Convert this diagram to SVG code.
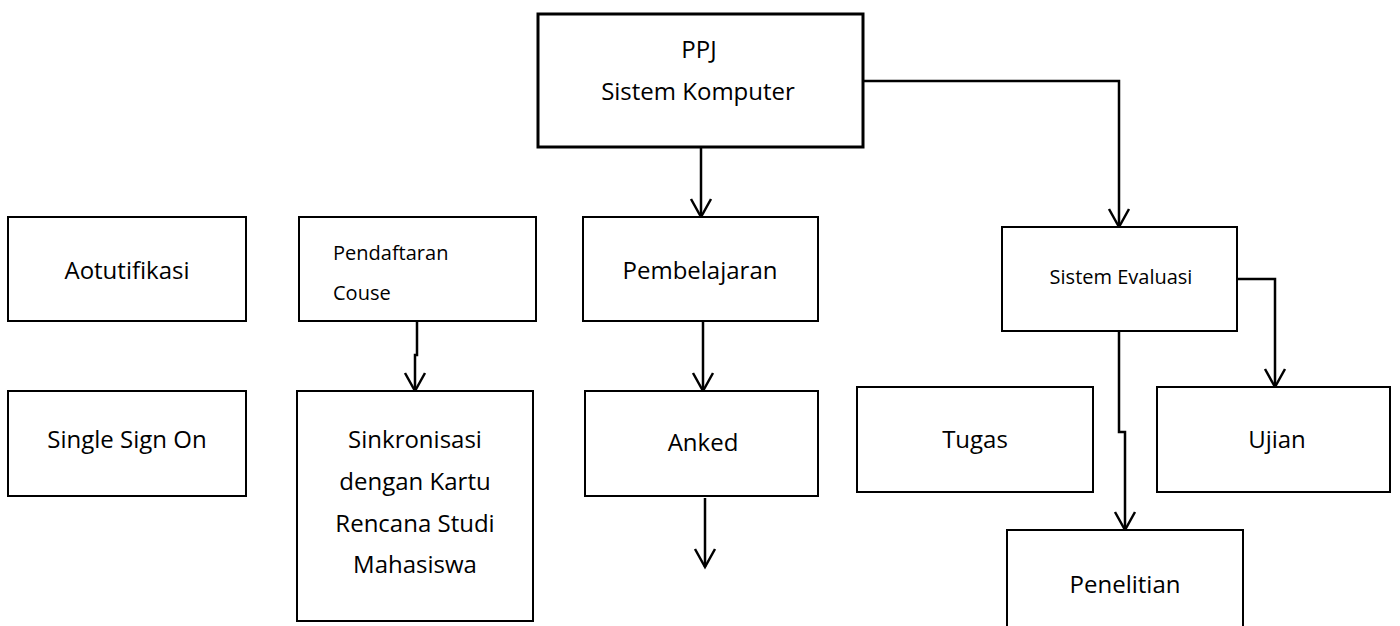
<svg xmlns="http://www.w3.org/2000/svg" width="1400" height="626" viewBox="0 0 1400 626">
<style>
.box{fill:#fff;stroke:#000;stroke-width:2}
.main{fill:#fff;stroke:#000;stroke-width:3}
.t{font-family:"Open Sans","Noto Sans",sans-serif;font-size:24px;fill:#000;text-anchor:middle}
.s{font-family:"Open Sans","Noto Sans",sans-serif;font-size:20px;fill:#000}
.c{fill:none;stroke:#000;stroke-width:2.5;marker-end:url(#v)}
</style>
<defs>
<marker id="v" markerUnits="userSpaceOnUse" viewBox="-20 -12 22 24" refX="0" refY="0" markerWidth="22" markerHeight="24" orient="auto" overflow="visible">
<path d="M-18,-10 L0,0 L-18,10" fill="none" stroke="#000" stroke-width="2.5"/>
</marker>
</defs>
<rect width="1400" height="626" fill="#fff"/>
<g id="connectors">
<path class="c" d="M701,147 V217"/>
<path class="c" d="M863,81 H1119 V227"/>
<path class="c" d="M703,321 V391"/>
<path class="c" d="M705,498 V567"/>
<path class="c" d="M417,321 V355 H415 V391"/>
<path class="c" d="M1237,279 H1275 V387"/>
<path class="c" d="M1119,331 V432 H1125 V530"/>
</g>
<g id="ppj"><rect class="main" x="538" y="14" width="325" height="133"/><text class="t" x="699" y="58">PPJ</text><text class="t" x="698" y="100">Sistem Komputer</text></g>
<g id="aotutifikasi"><rect class="box" x="8" y="217" width="238" height="104"/><text class="t" x="127" y="279">Aotutifikasi</text></g>
<g id="sso"><rect class="box" x="8" y="391" width="238" height="105"/><text class="t" x="127" y="448">Single Sign On</text></g>
<g id="pendaftaran"><rect class="box" x="299" y="217" width="237" height="104"/><text class="s" x="333" y="260">Pendaftaran</text><text class="s" x="333" y="300">Couse</text></g>
<g id="sinkronisasi"><rect class="box" x="297" y="391" width="236" height="230"/><text class="t" x="415" y="448">Sinkronisasi</text><text class="t" x="415" y="490">dengan Kartu</text><text class="t" x="415" y="532">Rencana Studi</text><text class="t" x="415" y="573">Mahasiswa</text></g>
<g id="pembelajaran"><rect class="box" x="583" y="217" width="235" height="104"/><text class="t" x="700" y="279">Pembelajaran</text></g>
<g id="anked"><rect class="box" x="585" y="391" width="233" height="105"/><text class="t" x="703" y="451">Anked</text></g>
<g id="evaluasi"><rect class="box" x="1002" y="227" width="235" height="104"/><text class="s" x="1121" y="284" text-anchor="middle">Sistem Evaluasi</text></g>
<g id="tugas"><rect class="box" x="857" y="387" width="236" height="105"/><text class="t" x="975" y="448">Tugas</text></g>
<g id="ujian"><rect class="box" x="1157" y="387" width="233" height="105"/><text class="t" x="1277" y="448">Ujian</text></g>
<g id="penelitian"><rect class="box" x="1007" y="530" width="236" height="110"/><text class="t" x="1125" y="593">Penelitian</text></g>
</svg>
